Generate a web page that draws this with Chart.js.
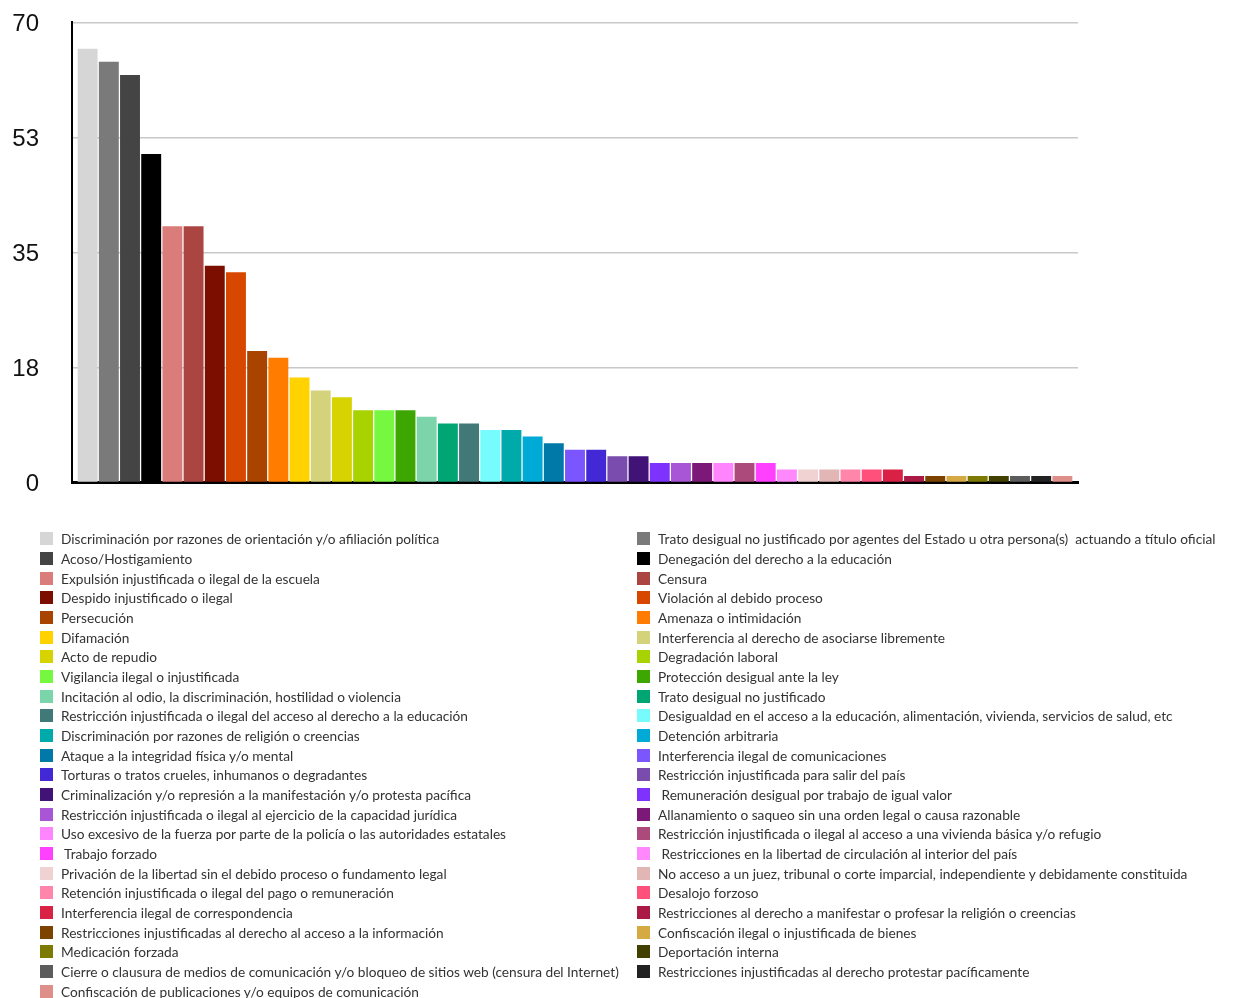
<!DOCTYPE html>
<html lang="es">
<head>
<meta charset="utf-8">
<title>Tipos de violaciones registradas</title>
<script src="https://cdn.jsdelivr.net/npm/chart.js@4/dist/chart.umd.min.js"></script>
<style>
  html, body { margin: 0; padding: 0; background: #fff; }
  #wrap { position: relative; width: 1235px; height: 998px; overflow: hidden; }
  #chartBox { position: absolute; left: 0; top: -25px; width: 1235px; height: 555px; }
  #legend {
    position: absolute; left: 40px; top: 529px; width: 1195px;
    display: grid; grid-template-columns: 597px 598px; grid-auto-rows: 19.68px;
    font-family: Lato, "Noto Sans", sans-serif; font-size: 13.7px; color: #333;
  }
  .item { display: flex; align-items: center; white-space: nowrap; height: 19.68px; }
  .sw { width: 13px; height: 13px; margin-right: 8px; flex: none; }
</style>
</head>
<body>
<div id="wrap">
  <div id="chartBox"><canvas id="c"></canvas></div>
  <div id="legend"></div>
</div>
<script>
// Categories, in the order the bars are drawn (left to right)
const categories = [
  'Discriminación por razones de orientación y/o afiliación política',
  'Trato desigual no justificado por agentes del Estado u otra persona(s)  actuando a título oficial',
  'Acoso/Hostigamiento',
  'Denegación del derecho a la educación',
  'Expulsión injustificada o ilegal de la escuela',
  'Censura',
  'Despido injustificado o ilegal',
  'Violación al debido proceso',
  'Persecución',
  'Amenaza o intimidación',
  'Difamación',
  'Interferencia al derecho de asociarse libremente',
  'Acto de repudio',
  'Degradación laboral',
  'Vigilancia ilegal o injustificada',
  'Protección desigual ante la ley',
  'Incitación al odio, la discriminación, hostilidad o violencia',
  'Trato desigual no justificado',
  'Restricción injustificada o ilegal del acceso al derecho a la educación',
  'Desigualdad en el acceso a la educación, alimentación, vivienda, servicios de salud, etc',
  'Discriminación por razones de religión o creencias',
  'Detención arbitraria',
  'Ataque a la integridad física y/o mental',
  'Interferencia ilegal de comunicaciones',
  'Torturas o tratos crueles, inhumanos o degradantes',
  'Restricción injustificada para salir del país',
  'Criminalización y/o represión a la manifestación y/o protesta pacífica',
  ' Remuneración desigual por trabajo de igual valor',
  'Restricción injustificada o ilegal al ejercicio de la capacidad jurídica',
  'Allanamiento o saqueo sin una orden legal o causa razonable',
  'Uso excesivo de la fuerza por parte de la policía o las autoridades estatales',
  'Restricción injustificada o ilegal al acceso a una vivienda básica y/o refugio',
  ' Trabajo forzado',
  ' Restricciones en la libertad de circulación al interior del país',
  'Privación de la libertad sin el debido proceso o fundamento legal',
  'No acceso a un juez, tribunal o corte imparcial, independiente y debidamente constituida',
  'Retención injustificada o ilegal del pago o remuneración',
  'Desalojo forzoso',
  'Interferencia ilegal de correspondencia',
  'Restricciones al derecho a manifestar o profesar la religión o creencias',
  'Restricciones injustificadas al derecho al acceso a la información',
  'Confiscación ilegal o injustificada de bienes',
  'Medicación forzada',
  'Deportación interna',
  'Cierre o clausura de medios de comunicación y/o bloqueo de sitios web (censura del Internet)',
  'Restricciones injustificadas al derecho protestar pacíficamente',
  'Confiscación de publicaciones y/o equipos de comunicación'
];

// Number of cases per category
const counts = [
  66, 64, 62, 50, 39, 39, 33, 32, 20, 19,
  16, 14, 13, 11, 11, 11, 10, 9, 9, 8,
  8, 7, 6, 5, 5, 4, 4, 3, 3, 3,
  3, 3, 3, 2, 2, 2, 2, 2, 2, 1,
  1, 1, 1, 1, 1, 1, 1
];

// Bar colours, one per category
const colors = [
  '#d6d6d6', '#7a7a7a', '#444444', '#000000', '#d97c7a', '#ab4542', '#7c0e00', '#d84700',
  '#a84300', '#ff7c00', '#ffd200', '#d4d27a', '#d6d300', '#a8d300', '#76f840', '#3ea600',
  '#7bd4aa', '#00a574', '#407978', '#76fcfd', '#00a9aa', '#00aad6', '#0079a8', '#7b55fe',
  '#4329d6', '#7a4cad', '#421377', '#7d32fe', '#a855d6', '#7b1878', '#ff85fe', '#ab4a7b',
  '#ff40fe', '#ff88fd', '#f0d2d2', '#e3b6b6', '#ff85ab', '#ff4f7b', '#d92145', '#ab1a44',
  '#7c4200', '#d6aa43', '#7c7a00', '#424000', '#5c5c5c', '#222222', '#df8f8a'
];

// Y axis tick labels (0, 17.5, 35, 52.5, 70 shown rounded)
const yTickLabels = ['0', '18', '35', '53', '70'];
const yMax = 70;

const datasets = categories.map((name, i) => ({
  label: name,
  data: [counts[i]],
  backgroundColor: colors[i],
  borderWidth: 0,
  barPercentage: 0.94,
  categoryPercentage: 0.99
}));

// Renders the legend as two HTML columns, row by row
const htmlLegend = {
  id: 'htmlLegend',
  afterUpdate(chart) {
    const box = document.getElementById('legend');
    box.innerHTML = '';
    const items = Chart.defaults.plugins.legend.labels.generateLabels(chart);
    items.forEach(it => {
      const row = document.createElement('div');
      row.className = 'item';
      const sw = document.createElement('span');
      sw.className = 'sw';
      sw.style.background = it.fillStyle;
      const tx = document.createElement('span');
      tx.textContent = it.text;
      tx.style.whiteSpace = 'pre';
      row.appendChild(sw);
      row.appendChild(tx);
      box.appendChild(row);
    });
  }
};

new Chart(document.getElementById('c'), {
  type: 'bar',
  data: { labels: [''], datasets },
  options: {
    responsive: true,
    maintainAspectRatio: false,
    animation: false,
    layout: { padding: { top: 0, right: 157, bottom: 0, left: 0 } },
    plugins: {
      legend: { display: false },
      tooltip: { enabled: false }
    },
    scales: {
      x: {
        grid: { display: false, drawTicks: false },
        border: { display: true, color: '#000', width: 3 },
        ticks: { display: false }
      },
      y: {
        min: 0,
        max: yMax,
        afterFit(scale) { scale.width = 72; },
        ticks: {
          stepSize: 17.5,
          padding: 33,
          labelOffset: 2,
          color: '#111',
          font: { family: '"Liberation Sans", Arial, sans-serif', size: 24 },
          callback: (v, i) => yTickLabels[i]
        },
        grid: { color: '#c8c8c8', lineWidth: 1.5, drawTicks: false },
        border: { display: true, color: '#000', width: 2 }
      }
    }
  },
  plugins: [htmlLegend]
});
</script>
</body>
</html>
